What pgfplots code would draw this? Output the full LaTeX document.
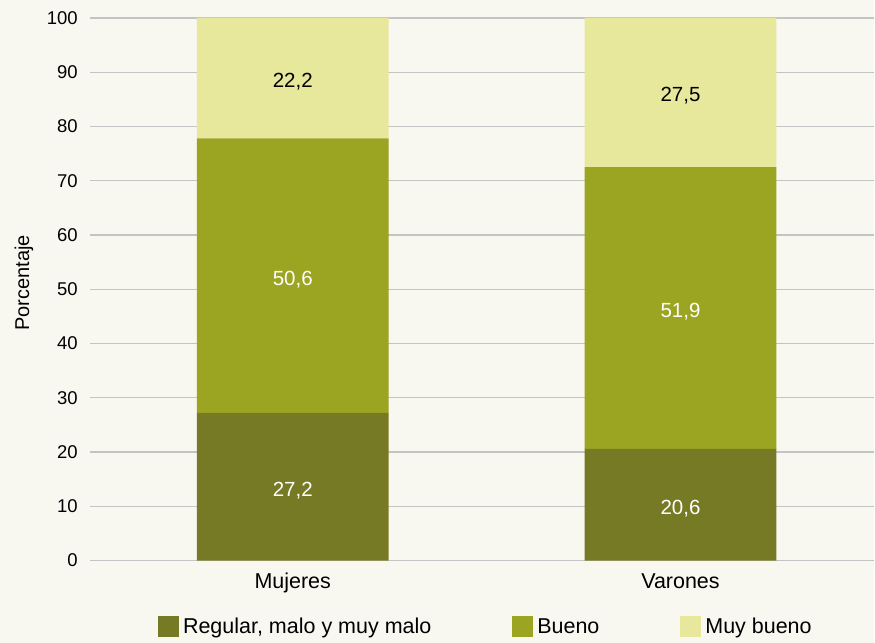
\documentclass[border=0pt]{standalone}
\usepackage{fontspec}
\setmainfont{Liberation Sans}
\usepackage{pgfplots}
\usepackage{pgfplotstable}
\pgfplotsset{compat=1.18}

\definecolor{bg}{HTML}{F9F8F0}
\definecolor{oscuro}{HTML}{767A24}
\definecolor{medio}{HTML}{9CA521}
\definecolor{claro}{HTML}{E7E89C}
\definecolor{grilla}{HTML}{C4C4C4}

\pgfplotstableread{
x  reg  bue  muy
0  27.2 50.6 22.2
1  20.6 51.9 27.5
}\salud

\newcommand{\fA}{\fontsize{21.5bp}{25bp}\selectfont}
\newcommand{\fB}{\fontsize{20.5bp}{24bp}\selectfont}
\newcommand{\fT}{\fontsize{18.5bp}{22bp}\selectfont}

\begin{document}
\begin{tikzpicture}
\fill[bg] (0,0) rectangle (875bp,643bp);
\begin{axis}[
  at={(90bp,82bp)}, anchor=south west,
  scale only axis, width=785bp, height=543bp,
  ybar stacked, bar width=192bp,
  xmin=-0.523, xmax=1.5, ymin=0, ymax=100,
  xtick={0,1}, xticklabels={Mujeres,Varones},
  ytick={0,10,...,100},
  axis line style={draw=none}, major tick length=0pt,
  ymajorgrids, grid style={grilla, line width=1.3bp},
  /pgf/number format/assume math mode=true,
  yticklabel style={font=\fT, anchor=east, inner sep=0pt, xshift=-12bp},
  xticklabel style={font=\fA, anchor=north, inner sep=0pt, yshift=-12.5bp},
  ylabel={Porcentaje},
  ylabel style={font=\fontsize{20bp}{23bp}\selectfont, at={(axis description cs:-0.084,0.512)}, anchor=center},
  nodes near coords,
  every node near coord/.append style={font=\fB, anchor=center, yshift=-3.5bp,
    /pgf/number format/use comma, /pgf/number format/fixed,
    /pgf/number format/fixed zerofill, /pgf/number format/precision=1},
  legend columns=3,
  legend style={at={(axis description cs:0.0866,-0.1215)}, anchor=west, draw=none, fill=none, inner sep=0pt,
    font=\fA, nodes={inner sep=0pt},
    /tikz/every odd column/.append style={column sep=4bp},
    /tikz/every even column/.append style={column sep=81bp}},
  legend cell align=left,
  legend image code/.code={\fill[#1] (0bp,-10.5bp) rectangle (21bp,10.5bp);},
]
\addplot[fill=oscuro, draw=none, nodes near coords style={text=white}] table[x=x, y=reg] {\salud};
\addplot[fill=medio, draw=none, nodes near coords style={text=white}] table[x=x, y=bue] {\salud};
\addplot[fill=claro, draw=none, nodes near coords style={text=black}] table[x=x, y=muy] {\salud};
\legend{{Regular, malo y muy malo}, Bueno, Muy bueno}
\end{axis}
\end{tikzpicture}
\end{document}
